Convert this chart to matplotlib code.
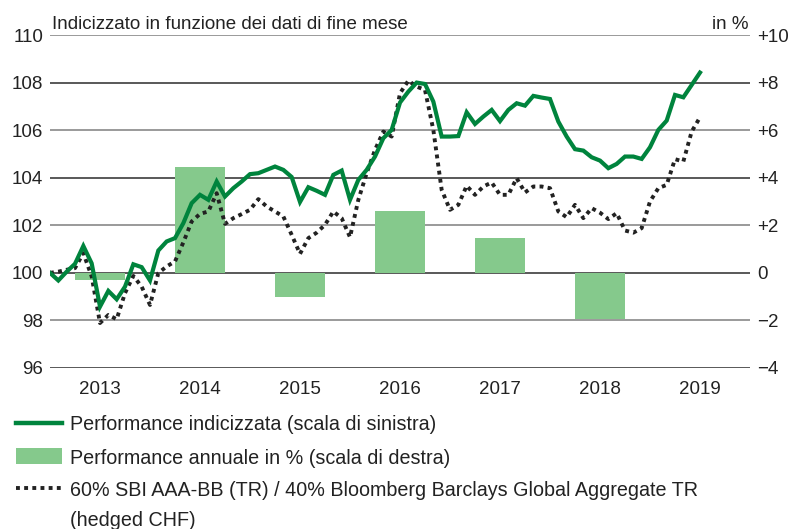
import matplotlib
matplotlib.use("Agg")
import matplotlib.pyplot as plt
from matplotlib.lines import Line2D
from matplotlib.patches import Rectangle

plt.rcParams['font.family'] = ['Liberation Sans', 'DejaVu Sans']

# ---------------- data ----------------
years = ["2013", "2014", "2015", "2016", "2017", "2018", "2019"]
annual_perf = [-0.3, 4.45, -1.0, 2.6, 1.45, -1.95]          # right axis, in %

# monthly index values, Dec 2012 = 100 ... Jun 2019
perf_index = [100.0, 99.68, 100.05, 100.38, 101.13, 100.4, 98.58, 99.24, 98.89, 99.42,
              100.36, 100.24, 99.68, 100.94, 101.32, 101.46, 102.09, 102.93, 103.28, 103.07,
              103.84, 103.21, 103.56, 103.84, 104.15, 104.19, 104.33, 104.47, 104.33, 104.03,
              102.98, 103.6, 103.45, 103.28, 104.12, 104.3, 103.07, 103.91, 104.33, 104.89,
              105.66, 106.01, 107.16, 107.62, 108.0, 107.94, 107.2, 105.73, 105.73, 105.75,
              106.75, 106.26, 106.57, 106.85, 106.38, 106.85, 107.13, 107.03, 107.44, 107.37,
              107.31, 106.36, 105.73, 105.2, 105.14, 104.86, 104.72, 104.4, 104.58, 104.89,
              104.89, 104.79, 105.28, 106.01, 106.4, 107.48, 107.38, 107.9, 108.42]

benchmark = [100.0, 100.05, 100.13, 100.2, 100.83, 99.85, 97.89, 98.23, 98.05, 99.15,
             99.87, 99.42, 98.65, 99.99, 100.27, 100.48, 101.28, 102.16, 102.48, 102.58,
             103.35, 102.06, 102.3, 102.47, 102.65, 103.1, 102.79, 102.58, 102.37, 101.6,
             100.8, 101.46, 101.69, 102.02, 102.58, 102.3, 101.5, 103.07, 104.19, 105.17,
             105.94, 105.73, 107.55, 108.08, 107.83, 107.69, 106.01, 103.49, 102.65, 102.86,
             103.66, 103.28, 103.63, 103.8, 103.28, 103.28, 103.98, 103.38, 103.63, 103.63,
             103.56, 102.58, 102.34, 102.86, 102.3, 102.72, 102.53, 102.26, 102.51, 101.78,
             101.69, 101.88, 103.0, 103.56, 103.7, 104.78, 104.68, 105.94, 106.54]

left_ticks = [96, 98, 100, 102, 104, 106, 108, 110]
right_ticks = [-4, -2, 0, 2, 4, 6, 8, 10]
right_labels = ["\u22124", "\u22122", "0", "+2", "+4", "+6", "+8", "+10"]

title_left = "Indicizzato in funzione dei dati di fine mese"
title_right = "in %"
legend_labels = ["Performance indicizzata (scala di sinistra)",
                 "Performance annuale in % (scala di destra)",
                 "60% SBI AAA-BB (TR) / 40% Bloomberg Barclays Global Aggregate TR",
                 "(hedged CHF)"]

GREEN = "#00843D"
BAR = "#85C98C"
DOT = "#222222"
TXT = "#222222"
FS = 13.5
LFS = 14.2

W, H = 792, 529
def fx(px): return px / W
def fy(py): return 1 - py / H

# ---------------- figure ----------------
fig = plt.figure(figsize=(7.92, 5.29), dpi=100)
ax2 = fig.add_axes([fx(50), fy(368), 700 / W, 333 / H])   # bars (right scale)
ax = fig.add_axes(ax2.get_position(), sharex=ax2)          # lines (left scale)
ax.patch.set_visible(False)
ax.set_zorder(ax2.get_zorder() + 1)

months = list(range(len(perf_index)))
year_centers = [6 + 12 * i for i in range(len(years))]

# bars on right scale
ax2.bar(year_centers[:len(annual_perf)], annual_perf, width=6, color=BAR, zorder=2)
ax2.set_ylim(-4, 10)
ax2.set_yticks(right_ticks)
ax2.set_yticklabels(right_labels)
ax2.yaxis.tick_right()
ax2.tick_params(axis='y', length=0, pad=5, labelsize=FS, colors=TXT)
ax2.tick_params(axis='x', length=0, pad=9, labelsize=FS, colors=TXT)

# grid lines behind bars
for i, t in enumerate(right_ticks):
    col = "#2b2b2b" if i % 2 == 0 else "#7f7f7f"
    ax2.axhline(t, color=col, lw=1.1, zorder=1)

# lines on left scale
ax.plot(months, benchmark, color=DOT, lw=2.8, linestyle=(0, (1, 1.1)),
        dash_capstyle='butt', zorder=3)
ax.plot(months, perf_index, color=GREEN, lw=3.0, solid_joinstyle='miter', zorder=4)
ax.set_ylim(96, 110)
ax.set_yticks(left_ticks)
ax.tick_params(axis='y', length=0, pad=5, labelsize=FS, colors=TXT)
ax.yaxis.tick_left()
ax.tick_params(axis='x', length=0, labelbottom=False)

ax2.set_xlim(0, 84)
ax2.set_xticks(year_centers)
ax2.set_xticklabels(years)

for a in (ax, ax2):
    for s in a.spines.values():
        s.set_visible(False)

# titles
fig.text(fx(52), fy(29), title_left, fontsize=FS, color=TXT, ha='left', va='baseline')
fig.text(fx(748), fy(29), title_right, fontsize=FS, color=TXT, ha='right', va='baseline')

# legend (manual)
rows = [423, 456, 488, 519]
fig.add_artist(Line2D([fx(16), fx(62)], [fy(rows[0]), fy(rows[0])], color=GREEN, lw=3.2,
                      transform=fig.transFigure))
fig.add_artist(Rectangle((fx(16), fy(rows[1] + 8)), 46 / W, 16 / H, facecolor=BAR,
                         edgecolor='none', transform=fig.transFigure))
fig.add_artist(Line2D([fx(16), fx(62)], [fy(rows[2]), fy(rows[2])], color=DOT, lw=2.8,
                      linestyle=(0, (1, 1.1)), dash_capstyle='butt',
                      transform=fig.transFigure))
for r, lab in zip(rows, legend_labels):
    fig.text(fx(70), fy(r), lab, fontsize=LFS, color=TXT, ha='left', va='center_baseline')

fig.savefig("out.png", dpi=100)
